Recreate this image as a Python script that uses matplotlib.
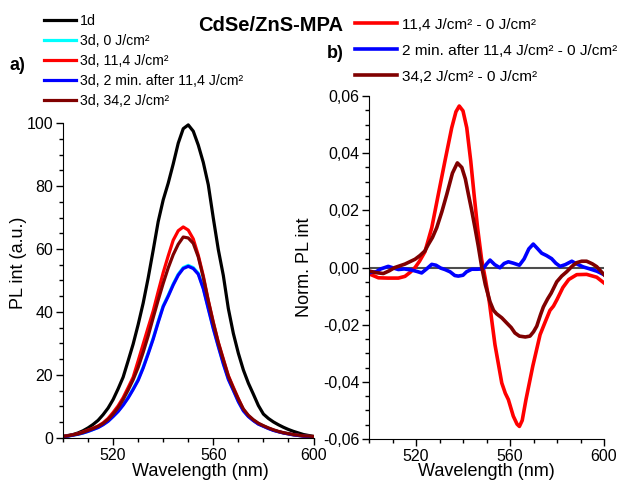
import matplotlib
matplotlib.use('Agg')
import matplotlib.pyplot as plt
from matplotlib.ticker import MultipleLocator, FixedLocator, FuncFormatter

plt.rcParams['font.family'] = ['Liberation Sans', 'DejaVu Sans']

# ---- panel a) PL spectra, 2 nm steps ----
wl = list(range(500, 602, 2))
pl_1d = [0.5, 0.8, 1.1, 1.6, 2.3, 3.2, 4.3, 5.6, 7.4, 9.5, 12.2, 15.6, 19.3, 24.5, 29.8, 36.0,
         42.8, 50.8, 59.6, 68.7, 75.6, 80.9, 87.0, 93.6, 98.2, 99.4, 97.4, 93.0, 87.5, 80.4, 69.8,
         59.8, 51.6, 41.1, 33.2, 26.9, 21.6, 17.4, 13.9, 10.3, 7.6, 6.2, 5.1, 4.2, 3.4, 2.7,
         2.1, 1.6, 1.1, 0.8, 0.5]
pl_3d_0 = [0.4, 0.6, 0.9, 1.2, 1.6, 2.1, 2.7, 3.4, 4.3, 5.4, 6.9, 8.6, 10.6, 12.9, 15.6, 18.6,
           22.5, 27.0, 31.7, 37.0, 42.0, 45.3, 48.9, 52.0, 54.1, 54.8, 54.1, 52.3, 47.7, 41.3, 35.0,
           29.3, 23.8, 18.9, 15.3, 11.7, 8.8, 6.9, 5.6, 4.5, 3.8, 3.1, 2.5, 2.0, 1.6, 1.3,
           1.0, 0.8, 0.6, 0.5, 0.4]
pl_3d_114 = [0.5, 0.7, 1.0, 1.4, 1.9, 2.5, 3.1, 3.8, 4.8, 6.2, 8.1, 10.2, 12.8, 16.0, 19.3, 24.5,
             29.8, 35.1, 40.3, 46.5, 52.5, 57.8, 62.8, 65.8, 67.0, 66.0, 63.2, 58.0, 51.5, 43.7, 36.8,
             30.4, 25.1, 19.8, 16.1, 12.5, 9.0, 7.0, 5.6, 4.5, 3.8, 3.1, 2.5, 2.0, 1.6, 1.3,
             1.0, 0.8, 0.6, 0.5, 0.4]
pl_3d_2min = [0.4, 0.6, 0.9, 1.2, 1.6, 2.1, 2.7, 3.3, 4.2, 5.3, 6.8, 8.4, 10.4, 12.7, 15.4, 18.3,
              22.2, 26.7, 31.4, 36.7, 41.7, 45.0, 48.6, 51.7, 53.8, 54.5, 53.8, 52.0, 47.4, 41.0, 34.7,
              29.0, 23.5, 18.6, 15.1, 11.5, 8.6, 6.8, 5.5, 4.4, 3.7, 3.0, 2.4, 2.0, 1.6, 1.3,
              1.0, 0.8, 0.6, 0.5, 0.4]
pl_3d_342 = [0.5, 0.7, 1.0, 1.3, 1.8, 2.4, 3.0, 3.7, 4.6, 5.9, 7.6, 9.6, 12.2, 15.2, 18.5, 22.4,
             27.2, 32.4, 38.2, 43.8, 49.1, 54.0, 58.2, 61.5, 63.8, 63.5, 61.8, 57.5, 51.0, 43.5, 36.5,
             30.2, 24.8, 19.6, 15.8, 12.3, 9.2, 7.2, 5.8, 4.7, 3.9, 3.2, 2.6, 2.1, 1.7, 1.4,
             1.1, 0.9, 0.7, 0.6, 0.5]

# ---- panel b) difference spectra ----
wl_d114 = [500, 504, 508, 512.5, 515.3, 517.5, 519.6, 521.5, 523.8, 526.7, 529.5, 532.3, 535.2,
           537, 538.4, 540, 541.6, 543.3, 544.7, 546.2, 547.9, 549.5, 551.2, 553.6, 556.5, 558,
           559.3, 561.4, 563, 564, 565.2, 566.8, 569.7, 572.8, 575, 577, 578.5, 580, 582.5, 585,
           588.4, 592.6, 596.9, 600]
d_114 = [-0.0022, -0.0036, -0.0037, -0.0037, -0.0031, -0.0017, 0.0, 0.0022, 0.0055, 0.0139,
         0.0256, 0.0372, 0.0489, 0.0545, 0.0565, 0.0548, 0.0489, 0.0372, 0.0256, 0.0139, 0.003,
         -0.004, -0.012, -0.027, -0.0404, -0.044, -0.0462, -0.052, -0.0548, -0.0556, -0.0535,
         -0.0462, -0.0345, -0.0235, -0.019, -0.015, -0.0135, -0.0112, -0.007, -0.0042, -0.0025,
         -0.0024, -0.0034, -0.0054]

wl_d2min = [500, 503, 505, 508.2, 510.5, 512.5, 515, 518.2, 520.5, 522.4, 524.5, 526.7, 528.5,
            530.5, 532.3, 534.5, 536.5, 538, 540, 541.5, 543.7, 546, 548.5, 550, 551.5, 553.5,
            555.7, 557.5, 559.3, 561.5, 564, 566, 568, 569.9, 571.5, 573.5, 575.5, 577.7, 579.5,
            581.3, 583.5, 586.3, 588.5, 591.2, 594, 597, 600]
d_2min = [-0.0018, -0.0015, -0.0005, 0.0004, -0.0002, -0.0007, -0.0005, -0.0009, -0.0014, -0.0019,
          -0.0005, 0.0011, 0.0008, -0.0002, -0.0007, -0.0015, -0.0028, -0.003, -0.0027, -0.0015,
          -0.0006, -0.0006, -0.0005, 0.0012, 0.0026, 0.001, -0.0001, 0.0014, 0.002, 0.0015,
          0.0008, 0.003, 0.0065, 0.0082, 0.0068, 0.005, 0.0042, 0.0031, 0.0015, 0.0004, 0.001,
          0.0022, 0.0012, 0.0002, -0.0005, -0.0013, -0.0025]

wl_d342 = [500, 503, 506.1, 508.5, 511, 515.3, 519.6, 521.7, 523.8, 525.2, 527, 528.8, 531, 533.1,
           535.5, 537.6, 539.5, 541, 542.3, 543.7, 545.1, 546.5, 548, 549.5, 551.5, 553, 554.3,
           556.5, 558.6, 560.5, 562.1, 564, 566.5, 568.5, 570, 571.4, 573, 574.2, 576, 577.5,
           579.9, 582, 584.1, 586.5, 588.4, 590.5, 592.6, 595, 596.9, 600]
d_342 = [-0.0012, -0.0018, -0.0021, -0.0012, 0.0, 0.0012, 0.0029, 0.0042, 0.0058, 0.008, 0.0105,
         0.0139, 0.0195, 0.0256, 0.033, 0.0366, 0.035, 0.031, 0.0256, 0.02, 0.0139, 0.0075, 0.0,
         -0.006, -0.012, -0.015, -0.0162, -0.0176, -0.0194, -0.021, -0.0229, -0.024, -0.0243,
         -0.024, -0.0225, -0.0205, -0.0165, -0.0138, -0.011, -0.009, -0.005, -0.003, -0.0015,
         0.0005, 0.0017, 0.0022, 0.0022, 0.0013, 0.0003, -0.0025]

fig = plt.figure(figsize=(6.25, 4.82), dpi=100)
ax1 = fig.add_axes([0.1008, 0.0913, 0.4008, 0.6535])
ax2 = fig.add_axes([0.5904, 0.0892, 0.3760, 0.7116])

lw = 2.3
ax1.plot(wl, pl_1d, color='black', lw=lw, label='1d')
ax1.plot(wl, pl_3d_0, color='#00FFFF', lw=lw, label='3d, 0 J/cm²')
ax1.plot(wl, pl_3d_114, color='#FF0000', lw=lw, label='3d, 11,4 J/cm²')
ax1.plot(wl, pl_3d_2min, color='#0000FF', lw=lw, label='3d, 2 min. after 11,4 J/cm²')
ax1.plot(wl, pl_3d_342, color='#800000', lw=lw, label='3d, 34,2 J/cm²')

ax2.axhline(0, color='#4d4d4d', lw=1.5, zorder=1)
ax2.plot(wl_d114, d_114, color='#FF0000', lw=2.6, label='11,4 J/cm² - 0 J/cm²')
ax2.plot(wl_d2min, d_2min, color='#0000FF', lw=2.6, label='2 min. after 11,4 J/cm² - 0 J/cm²')
ax2.plot(wl_d342, d_342, color='#800000', lw=2.6, label='34,2 J/cm² - 0 J/cm²')

for ax in (ax1, ax2):
    ax.spines['top'].set_visible(False)
    ax.spines['right'].set_visible(False)
    ax.set_xlim(500, 600)
    ax.xaxis.set_major_locator(FixedLocator([520, 560, 600]))
    ax.xaxis.set_minor_locator(MultipleLocator(10))
    ax.tick_params(which='major', direction='out', length=5, width=1, labelsize=11.5, pad=2)
    ax.tick_params(which='minor', direction='out', length=3, width=1)
    ax.set_xlabel('Wavelength (nm)', fontsize=13)

ax1.set_ylim(0, 100)
ax1.yaxis.set_major_locator(MultipleLocator(20))
ax1.yaxis.set_minor_locator(MultipleLocator(5))
ax1.set_ylabel('PL int (a.u.)', fontsize=13)
ax1.yaxis.set_label_coords(-0.145, 0.555)
ax1.xaxis.set_label_coords(0.548, -0.078)

ax2.set_ylim(-0.06, 0.06)
ax2.yaxis.set_major_locator(MultipleLocator(0.02))
ax2.yaxis.set_minor_locator(MultipleLocator(0.005))
ax2.yaxis.set_major_formatter(FuncFormatter(lambda v, p: ('%.2f' % v).replace('.', ',').replace('-0,00', '0,00')))
ax2.set_ylabel('Norm. PL int', fontsize=13)
ax2.yaxis.set_label_coords(-0.24, 0.50)
ax2.xaxis.set_label_coords(0.5, -0.07)

ax1.legend(loc='upper left', bbox_to_anchor=(0.0704, 0.971), bbox_transform=fig.transFigure,
           frameon=False, fontsize=10.2, borderpad=0, borderaxespad=0, handlelength=2.25,
           handletextpad=0.3, labelspacing=0.43)
ax2.legend(loc='upper left', bbox_to_anchor=(0.568, 0.963), bbox_transform=fig.transFigure,
           frameon=False, fontsize=11.1, borderpad=0, borderaxespad=0, handlelength=2.75,
           handletextpad=0.3, labelspacing=0.78)

fig.text(0.4336, 0.948, 'CdSe/ZnS-MPA', fontsize=14.5, fontweight='bold', ha='center', va='center')
fig.text(0.016, 0.865, 'a)', fontsize=13, fontweight='bold', ha='left', va='center')
fig.text(0.523, 0.89, 'b)', fontsize=13, fontweight='bold', ha='left', va='center')

fig.savefig('out.png', dpi=100)
